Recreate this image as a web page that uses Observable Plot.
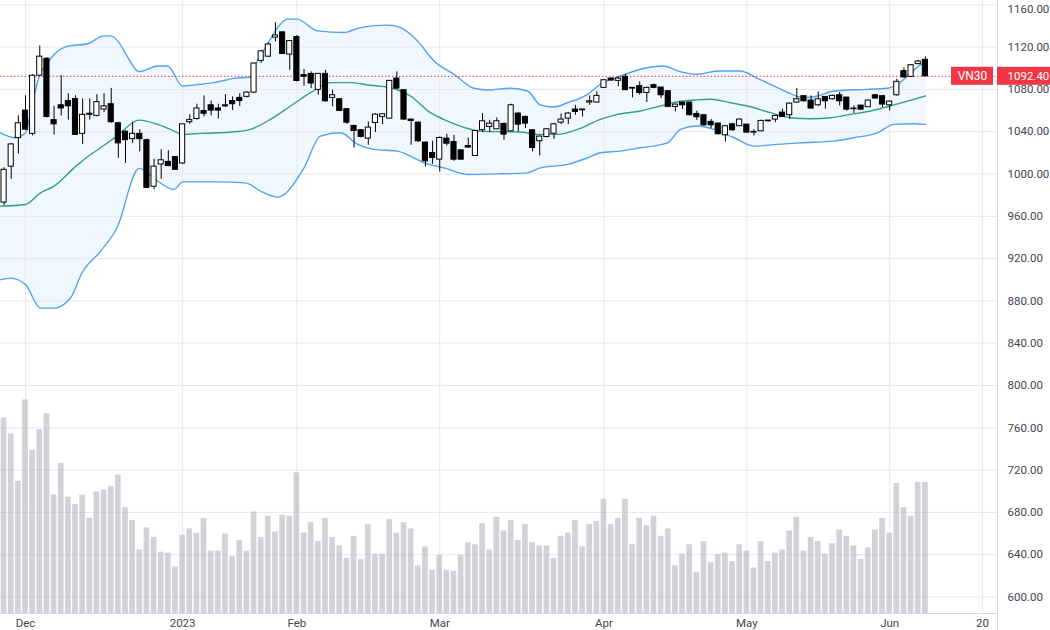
<!DOCTYPE html>
<html><head><meta charset="utf-8">
<script src="https://cdn.jsdelivr.net/npm/d3@7"></script>
<script src="https://cdn.jsdelivr.net/npm/@observablehq/plot@0.6"></script>
<style>
html,body{margin:0;padding:0;background:#fff;}
#chart{width:1050px;height:630px;overflow:hidden;}
</style></head><body><div id="chart"></div>
<script>
// ---- data (trading-day index; 0 = 1 Dec 2022) ----
const symbol = "VN30";
const lastPrice = 1092.4;
const firstIndex = -3;
const open  = [973,1007,1034,1060,1038,1093,1109,1051,1065,1069,1071,1038,1056,1055,1061,1066,1048,1040,1033,1038,1032,988,1009,1011.5,1016,1010,1049,1052,1059.6,1065,1062,1064,1069,1072,1073,1077,1107,1111,1129,1134,1113,1129.5,1093.5,1094.7,1079.6,1094.7,1072,1070.7,1061.3,1045.5,1041.4,1033.5,1048.3,1054,1052.4,1090.3,1079.3,1051.5,1048.6,1029.7,1019.9,1013.6,1033.5,1030.3,1022.4,1026.5,1017.1,1041.4,1044.5,1042.3,1047.4,1040.4,1057.2,1054,1041.4,1031,1035,1038.2,1048.6,1052.4,1061,1061,1067.6,1067.6,1081.5,1090.3,1088.1,1091.9,1081.5,1083.1,1076.7,1084,1081.8,1078.3,1063.5,1067.6,1067.6,1056.8,1055.6,1049.3,1047.7,1036.6,1047,1045.2,1046.7,1039.2,1040.4,1050.5,1051.5,1058.1,1055.6,1067.6,1073.6,1069.5,1065,1072.9,1070.7,1074.5,1072.3,1061.3,1064.7,1063.2,1074.5,1073.6,1065,1074.5,1097.3,1091.9,1103.9,1108];
const high  = [1006,1029,1055,1074,1094,1121,1110,1064,1093,1076,1074,1071,1071,1075,1076,1081,1049,1041,1049,1042,1033,1014,1023,1022,1016,1047,1056,1066,1074,1069,1066,1075,1073,1076,1078,1105,1117,1124,1143,1134,1126,1131,1099,1096.6,1095,1098,1079.3,1071,1062,1046,1042,1049.3,1057,1057,1088.5,1096.6,1080,1051.5,1049,1030,1031,1035,1037.6,1036.6,1023,1034,1041,1057.2,1050.8,1053,1048,1066,1058,1055,1042,1036,1043,1048,1056.8,1058,1065,1061,1073.9,1077.7,1089,1091,1091.9,1094.1,1081.5,1087.2,1082,1085,1082,1078.5,1066,1068,1068,1059.4,1056,1051.5,1048,1046,1048,1052,1047,1042,1051,1050.8,1055,1061.3,1067,1080.8,1074,1073.9,1077.7,1073,1074.5,1077.1,1072.5,1064.4,1065,1070,1075.2,1074,1069,1089.7,1100.4,1103.5,1107.7,1110.8];
const low   = [970,995,1019,1041,1036,1092,1053,1037,1055,1051,1037,1028,1051,1054,1058,1048,1015,1010,1029,1021,986,985,995,1007,1004,1009,1047,1051,1054,1055,1052,1063,1060,1064,1072,1076,1104.5,1110,1125,1113,1098,1087,1083,1080.8,1074.5,1068,1063.5,1059,1047,1024.6,1034,1027.2,1039.2,1046.7,1052,1080,1051,1027.2,1030,1006.6,1009.2,1001.9,1026.5,1012,1013,1024.6,1017,1039.2,1039.2,1042,1032,1040,1039.8,1043,1020.9,1017.1,1034,1032.8,1046.7,1046.7,1055.6,1054,1065,1067,1081,1088,1082.4,1079,1072,1074.5,1067.6,1080.8,1071.4,1063,1058.7,1061,1055,1050.8,1045,1043,1037,1030.3,1040.5,1045,1038.5,1036,1040,1049,1048.6,1053.5,1051.8,1067,1068,1061.5,1064,1061.3,1070,1064.4,1059.4,1057.2,1060.5,1063,1071,1062.8,1059.7,1073.6,1091,1091.5,1103.5,1092];
const close = [1004,1028,1048,1042,1093,1111,1054,1047,1062,1064,1037,1056,1057,1068,1064,1049,1029,1032,1038,1033,987,1007,1013,1007.5,1004,1047,1051,1062,1057,1060,1060,1065,1066,1069,1077,1104.5,1116,1122.5,1131,1113.5,1125.7,1088,1092,1085.6,1094.7,1068.8,1074.5,1059.7,1048.6,1040.7,1035.1,1043.9,1056.2,1056.5,1088.1,1080.8,1051.5,1050.2,1031,1012,1015.2,1034.1,1028.7,1013.6,1013.6,1025,1040.7,1049.9,1047.7,1049.9,1037.3,1065,1046.7,1047.7,1024.6,1035.4,1042.3,1047,1051.5,1057.2,1058.7,1060.3,1068.8,1073.9,1088.7,1088.4,1090.3,1079.3,1080.8,1076.7,1081.5,1081.5,1074.5,1063.5,1065.7,1065,1055.6,1053.7,1046.1,1046.1,1037.6,1045.2,1041.4,1051.5,1039.2,1039.8,1050.2,1049.9,1054.9,1054,1066.6,1070.7,1068.8,1061.9,1070.7,1068.8,1073.9,1068.8,1060.9,1061.9,1060.9,1069.5,1071.4,1065.7,1068.5,1087.2,1091.3,1102.9,1106.4,1092.4];
// volume, in arbitrary units (overlay scale, bars rise from the bottom of the pane)
const volume = [185,170,125,202,154,174,189,112,142,110,103,112,90,115,117,120,131,100,88,60,81,72,58,57,44,74,80,76,90,59,59,75,54,69,59,96,72,92,77,93,92,133,76,86,68,90,72,64,52,73,51,84,56,56,89,76,86,80,45,63,41,55,41,40,55,67,65,85,60,91,78,88,69,84,67,64,64,52,73,76,88,63,84,87,108,84,90,108,65,90,83,92,73,80,45,56,65,39,68,48,56,57,49,65,59,43,68,49,57,60,78,91,59,72,68,56,66,79,73,64,51,62,79,90,76,123,100,92,124,124];
// Bollinger bands: [trading-day index, value]
const upperBand = [[-3.5,1039],[-1.4,1034.3],[0,1039],[1,1068],[2,1094],[3,1104],[4,1113],[6,1121],[8.6,1123],[11,1130.6],[11.9,1130.6],[13.1,1124.3],[14.2,1111.7],[15.9,1096.8],[18.5,1102.2],[19.9,1102.2],[22,1083.3],[24.5,1084.9],[26.4,1086.4],[29.2,1090.5],[31.5,1091.8],[32,1100.6],[33.9,1122.8],[35.3,1138.5],[36.7,1146.5],[38,1146.5],[40.9,1135.4],[44.6,1133.8],[46.9,1138.5],[50.7,1140.8],[52.5,1138.5],[54.9,1125.9],[57.2,1106.9],[60,1094.3],[62.8,1081.1],[64.7,1079.5],[67.9,1081.1],[70.3,1078.5],[72.1,1065.3],[74,1063.4],[75.9,1067.4],[78.7,1075.4],[80.5,1084.9],[83.3,1092.7],[86.1,1099.1],[89.4,1102.2],[91.3,1097.5],[94.1,1094.3],[96.9,1097.5],[100.1,1097.5],[102.5,1090.5],[104.8,1083.3],[107.1,1076],[109,1072.2],[110.9,1073.8],[113.2,1078.5],[117.9,1080.1],[120.7,1081.1],[122.1,1084.9],[124,1095.9],[125.4,1103.8],[126,1105.3]];
const midBand = [[-3.5,969.6],[0,971.2],[2.1,982.2],[4,988.5],[6.8,1005.8],[8.2,1013.8],[10.5,1024.8],[12.8,1035.9],[15.9,1051],[18.5,1047],[20.3,1042.2],[22,1037.5],[24.5,1038.4],[29.4,1040],[31.5,1042.2],[34.3,1051.7],[37.1,1064.3],[39.9,1076.9],[42.7,1086.4],[45.5,1086.4],[48.3,1083.9],[51.1,1081.6],[53.9,1073.8],[56.7,1058],[59.1,1050.1],[61.6,1043.7],[63.7,1040.6],[66.5,1040],[69.3,1039.7],[71.7,1037.5],[74.5,1037.5],[77.3,1042.2],[80.5,1051.7],[82.9,1056.4],[86.1,1059.6],[88.9,1064.3],[91.3,1068.4],[93.8,1070],[95.9,1070.7],[98.7,1067.4],[101.5,1063.6],[104.3,1058],[107.1,1053.2],[109.9,1052.3],[112.7,1053.2],[115.5,1056.4],[118.3,1059.6],[121.1,1064.3],[123.5,1069],[126,1073.8]];
const lowerBand = [[-3.5,900.1],[-2.1,901.6],[0,895.4],[2.1,873.2],[4,873.2],[6.3,882.7],[7.9,906.4],[10.5,926.9],[12.8,949],[15.9,1005.3],[18.5,993.2],[20.8,985.4],[22,992.6],[26.9,992.6],[30.8,991.6],[32.9,983.8],[35.3,978.1],[36.2,980.6],[39,1005.8],[41.3,1035.9],[44.1,1039],[46.5,1028],[48.8,1023.3],[52.1,1021.7],[53.9,1016.9],[55.8,1010.6],[58.6,1005.8],[61.9,999.6],[66.5,1000.2],[70.3,1001.1],[72.1,1005.8],[75.9,1009.1],[78.7,1015.3],[80.5,1020.1],[83.3,1021.7],[86.1,1024.8],[89.9,1029.5],[91.7,1042.2],[94.1,1045.4],[96.4,1042.2],[99.2,1034.3],[102,1026.4],[105.3,1028],[108.5,1029.5],[113.2,1031.1],[116,1034.3],[119.3,1039],[121.6,1047],[124.4,1047.5],[126,1047]];
// axes
const tickIndex  = [0,22,38,58,81,101,121,134];
const tickLabels = ["Dec","2023","Feb","Mar","Apr","May","Jun","20"];
const priceTicks = [600,640,680,720,760,800,840,880,920,960,1000,1040,1080,1120,1160];

// ---- build ----
const X_DOMAIN = [-3.5, 136.1];
const Y_DOMAIN = [584.4, 1164.1];
const VOL_BASE = Y_DOMAIN[0];
const candles = open.map((o, k) => ({i: firstIndex + k, o, h: high[k], l: low[k], c: close[k], v: volume[k]}));
const GRID = "#e6e8ee";
const FONT = "Roboto, 'Noto Sans', sans-serif";
const topTick = priceTicks[priceTicks.length - 1];

const chart = Plot.plot({
  width: 1050, height: 630,
  marginLeft: 0, marginRight: 53, marginTop: 0, marginBottom: 17,
  x: {domain: X_DOMAIN, axis: null, label: null},
  y: {domain: Y_DOMAIN, axis: null, label: null},
  style: {fontFamily: FONT, fontSize: "12px", background: "#fff", overflow: "hidden"},
  marks: [
    // band fill: upper band area, then lower band area painted white
    Plot.areaY(upperBand, {x: d => d[0], y1: () => VOL_BASE, y2: d => d[1], fill: "#f0f7fe", curve: "monotone-x", clip: true}),
    Plot.areaY(lowerBand, {x: d => d[0], y1: () => VOL_BASE, y2: d => d[1], fill: "#ffffff", curve: "monotone-x", clip: true}),
    Plot.gridY(priceTicks, {stroke: GRID, strokeOpacity: 1}),
    Plot.gridX(tickIndex, {stroke: GRID, strokeOpacity: 1}),
    // volume overlay
    Plot.rect(candles, {x1: d => d.i - 0.4, x2: d => d.i + 0.4, y1: () => VOL_BASE, y2: d => VOL_BASE + d.v, fill: "#b2b5be", fillOpacity: 0.6, clip: true}),
    // bands
    Plot.line(upperBand, {x: d => d[0], y: d => d[1], stroke: "#4fa3f0", strokeWidth: 1.4, curve: "monotone-x", clip: true}),
    Plot.line(lowerBand, {x: d => d[0], y: d => d[1], stroke: "#4fa3f0", strokeWidth: 1.4, curve: "monotone-x", clip: true}),
    Plot.line(midBand, {x: d => d[0], y: d => d[1], stroke: "#33a18a", strokeWidth: 1.4, curve: "monotone-x", clip: true}),
    // last price line
    Plot.ruleY([lastPrice], {stroke: "#f23645", strokeWidth: 1, strokeDasharray: "1.5,2"}),
    // candles
    Plot.ruleX(candles, {x: d => d.i, y1: d => d.l, y2: d => d.h, stroke: "#000", strokeWidth: 1, clip: true}),
    Plot.rect(candles, {x1: d => d.i - 0.36, x2: d => d.i + 0.36, y1: d => d.o, y2: d => d.c,
      fill: d => d.c >= d.o ? "#ffffff" : "#000000", stroke: "#000", strokeWidth: 1, clip: true}),
    // frame lines
    Plot.ruleY([Y_DOMAIN[0]], {stroke: "#d6d9e0"}),
    Plot.ruleX([X_DOMAIN[1]], {stroke: "#d6d9e0", insetBottom: -17}),
    // axes
    Plot.axisY(priceTicks.filter(t => t !== topTick), {anchor: "right", label: null, tickSize: 0, tickPadding: 10, tickFormat: d => d.toFixed(2), fontSize: 11.5, color: "#434651"}),
    Plot.axisY([topTick], {anchor: "right", label: null, tickSize: 0, tickPadding: 10, dy: 4, tickFormat: d => d.toFixed(2), fontSize: 11.5, color: "#434651"}),
    Plot.axisX(tickIndex, {anchor: "bottom", label: null, tickSize: 0, tickPadding: 5, tickFormat: d => tickLabels[tickIndex.indexOf(d)], fontSize: 11.5, color: "#434651"}),
    // price labels
    Plot.rect([lastPrice], {x1: () => X_DOMAIN[1], x2: () => X_DOMAIN[1], y1: d => d, y2: d => d, insetLeft: -46, insetRight: 4, insetTop: -9, insetBottom: -9, fill: "#f23645"}),
    Plot.rect([lastPrice], {x1: () => X_DOMAIN[1], x2: () => X_DOMAIN[1], y1: d => d, y2: d => d, insetLeft: 0, insetRight: -60, insetTop: -9, insetBottom: -9, fill: "#f23645"}),
    Plot.text([lastPrice], {x: () => X_DOMAIN[1], y: d => d, dx: -25, text: () => symbol, fill: "#ffffff", fontSize: 12, textAnchor: "middle"}),
    Plot.text([lastPrice], {x: () => X_DOMAIN[1], y: d => d, dx: 10, text: d => d.toFixed(2), fill: "#ffffff", fontSize: 11.5, textAnchor: "start"})
  ]
});
document.getElementById("chart").appendChild(chart);
</script>
</body></html>
